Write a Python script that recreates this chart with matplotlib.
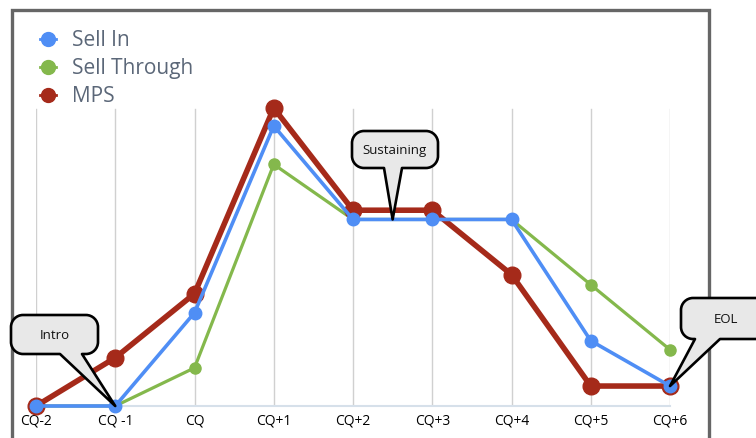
import matplotlib
matplotlib.use("Agg")
import matplotlib.pyplot as plt
from matplotlib.path import Path
from matplotlib.patches import PathPatch, Rectangle
from matplotlib.lines import Line2D

plt.rcParams['font.family'] = ['Open Sans', 'DejaVu Sans']

# ---- data ----
quarters = ["CQ-2", "CQ -1", "CQ", "CQ+1", "CQ+2", "CQ+3", "CQ+4", "CQ+5", "CQ+6"]
sell_in = [0, 0, 31.3, 94.0, 62.6, 62.6, 62.6, 21.9, 6.7]
sell_through = [0, 0, 12.8, 81.1, 62.6, 62.6, 62.6, 40.7, 18.9]
mps = [0, 16.2, 37.7, 100.0, 65.7, 65.7, 44.1, 6.7, 6.7]
series_names = ["Sell In", "Sell Through", "MPS"]
callout_texts = ["Intro", "Sustaining", "EOL"]

colors = {"Sell In": "#4f8ef5", "Sell Through": "#84b84c", "MPS": "#a52a1a"}

W, H = 756, 439
fig = plt.figure(figsize=(W / 100, H / 100), dpi=100)


def px(x, y):
    """pixel (y down) -> figure fraction"""
    return (x / W, 1 - y / H)


ax = fig.add_axes([36 / W, 1 - 407 / H, 634 / W, 298 / H])
ax.set_xlim(0, len(quarters) - 1)
ax.set_ylim(0, 100)
xs = list(range(len(quarters)))

for s in ax.spines.values():
    s.set_visible(False)
ax.set_yticks([])
ax.set_xticks(xs)
ax.set_xticklabels(quarters, fontsize=10, color="#000000")
ax.tick_params(axis="x", length=0, pad=5)

for x in xs:
    ax.plot([x, x], [0, 99.5], color="#d0d0d0", lw=1, zorder=1)
ax.plot([0, xs[-1]], [0, 0], color="#d6e0ea", lw=1.5, zorder=1, clip_on=False)

ax.plot(xs, sell_through, color=colors["Sell Through"], lw=2.3, marker="o",
        ms=8, zorder=2, clip_on=False)
ax.plot(xs, mps, color=colors["MPS"], lw=4, marker="o",
        ms=12, zorder=3, clip_on=False)
ax.plot(xs, sell_in, color=colors["Sell In"], lw=2.6, marker="o",
        ms=9, zorder=4, clip_on=False)

# legend
for i, name in enumerate(series_names):
    y = 40 + 28 * i
    fig.add_artist(Line2D([40 / W, 56 / W], [1 - y / H] * 2, color=colors[name],
                          lw=2))
    fig.add_artist(Line2D([48 / W], [1 - y / H], color=colors[name],
                          marker="o", ms=10, lw=0))
    fig.text(72 / W, 1 - (y + 1) / H, name, fontsize=15, color="#5b6778",
             va="center", ha="left")

# outer frame
fig.add_artist(Rectangle(px(11.5, 470), 697 / W, 459.5 / H, fill=False,
                         edgecolor="#666666", lw=2.4, transform=fig.transFigure,
                         zorder=5))


def callout(box, base, tip, text):
    x0, y0, x1, y1 = box
    r = 12
    b0, b1 = base
    tx, ty = tip
    k = 0.55 * r
    pts = [
        ((x0 + r, y0), Path.MOVETO),
        ((x1 - r, y0), Path.LINETO),
        ((x1 - r + k, y0), Path.CURVE4), ((x1, y0 + r - k), Path.CURVE4), ((x1, y0 + r), Path.CURVE4),
        ((x1, y1 - r), Path.LINETO),
        ((x1, y1 - r + k), Path.CURVE4), ((x1 - r + k, y1), Path.CURVE4), ((x1 - r, y1), Path.CURVE4),
        ((b1, y1), Path.LINETO),
        ((tx, ty), Path.LINETO),
        ((b0, y1), Path.LINETO),
        ((x0 + r, y1), Path.LINETO),
        ((x0 + r - k, y1), Path.CURVE4), ((x0, y1 - r + k), Path.CURVE4), ((x0, y1 - r), Path.CURVE4),
        ((x0, y0 + r), Path.LINETO),
        ((x0, y0 + r - k), Path.CURVE4), ((x0 + r - k, y0), Path.CURVE4), ((x0 + r, y0), Path.CURVE4),
        ((x0 + r, y0), Path.CLOSEPOLY),
    ]
    verts = [px(*p) for p, _ in pts]
    codes = [c for _, c in pts]
    patch = PathPatch(Path(verts, codes), facecolor="#e8e8e8", edgecolor="black",
                      lw=1.9, transform=fig.transFigure, zorder=10, joinstyle="round")
    fig.add_artist(patch)
    fig.text((x0 + x1) / 2 / W, 1 - ((y0 + y1) / 2) / H, text, fontsize=9.5,
             color="#111111", ha="center", va="center", zorder=11)


def data_to_px(x, y):
    fx, fy = fig.transFigure.inverted().transform(ax.transData.transform((x, y)))
    return fx * W, (1 - fy) * H


callout((11, 316, 98, 355), (60, 82), data_to_px(1, sell_in[1]), callout_texts[0])
callout((352, 132, 438, 169), (384, 402), data_to_px(4.5, sell_in[4]), callout_texts[1])
callout((681, 299, 770, 340), (695, 720), data_to_px(8, sell_in[8]), callout_texts[2])

fig.savefig("out.png", dpi=100)
